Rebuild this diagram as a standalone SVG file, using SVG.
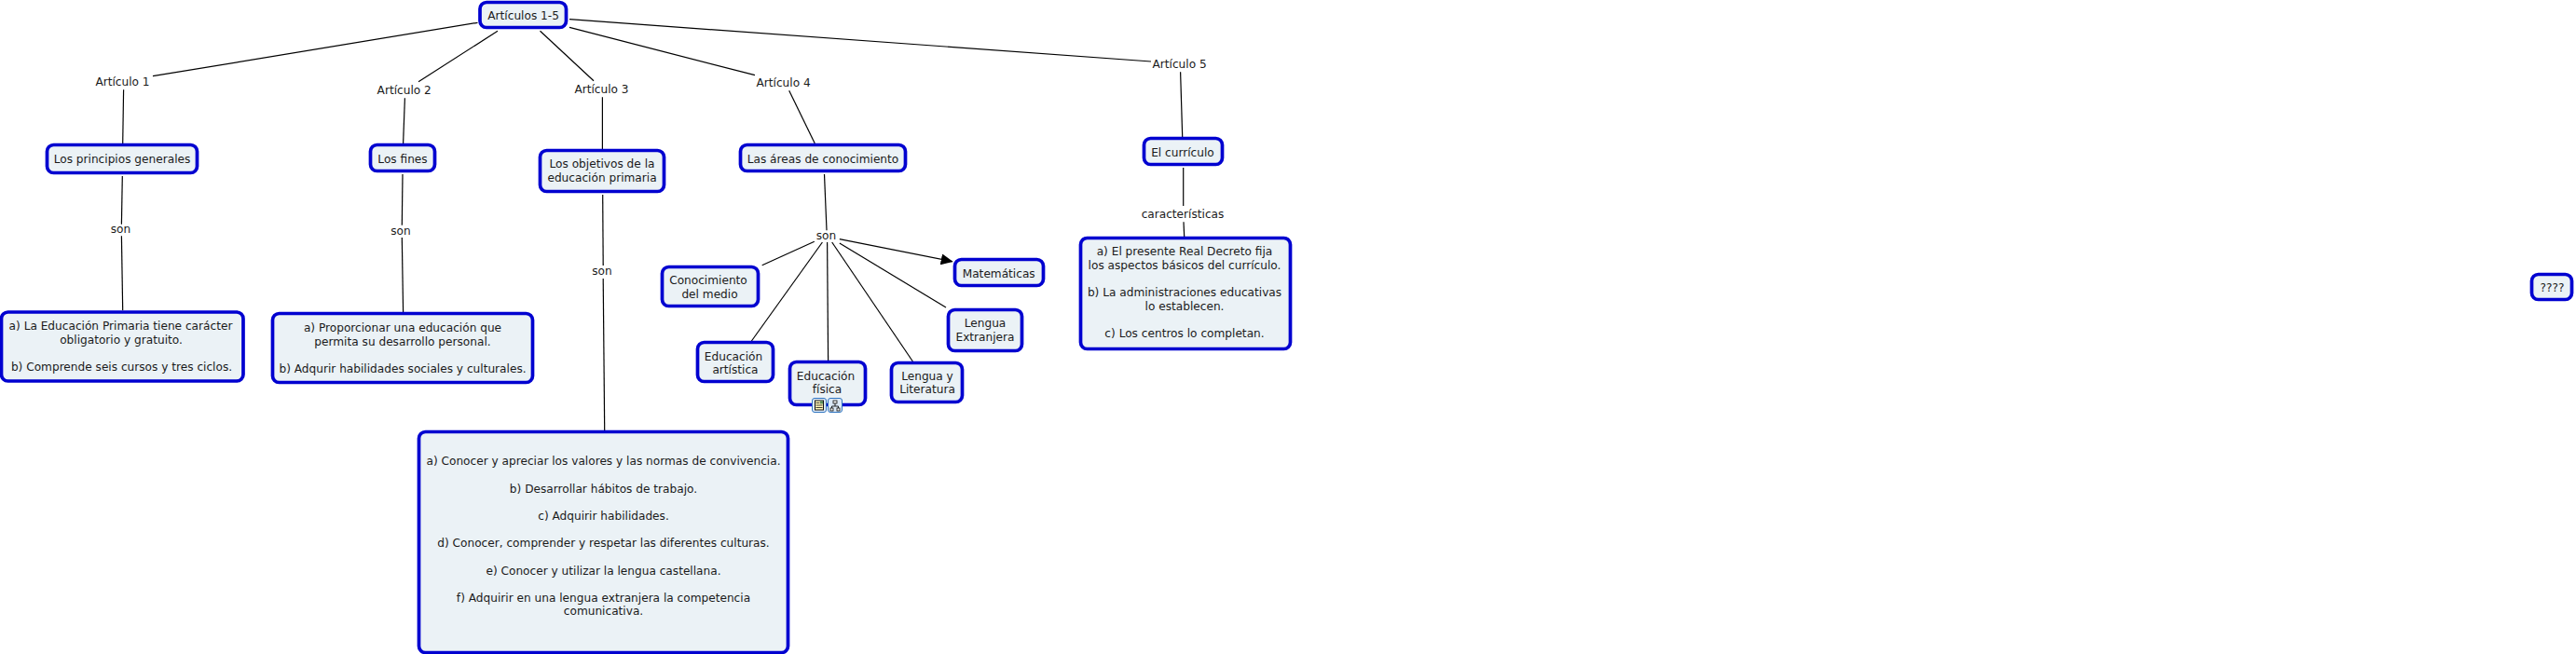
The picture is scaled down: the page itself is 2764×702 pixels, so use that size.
<svg xmlns="http://www.w3.org/2000/svg" width="2764" height="702" viewBox="0 0 2764 702">
<style>
rect.n{fill:#ebf2f6;stroke:#0000d0;stroke-width:3.7}
text{font-family:"DejaVu Sans","Verdana",sans-serif;font-size:12.15px;fill:#1a1a1a;text-anchor:middle}
#connectors line{stroke:#000;stroke-width:1.2}
</style>
<defs><marker id="arrow" markerUnits="userSpaceOnUse" markerWidth="14" markerHeight="12" refX="12" refY="6" orient="auto"><path d="M0 0L13 6L0 12Z" fill="#000"/></marker></defs>
<rect width="2764" height="702" fill="#fff"/>
<g id="connectors">
<line x1="512.5" y1="24.3" x2="164" y2="81.7"/>
<line x1="132.6" y1="96.3" x2="131.7" y2="154"/>
<line x1="534" y1="33.3" x2="449" y2="87.7"/>
<line x1="434.4" y1="105.3" x2="432.6" y2="154"/>
<line x1="579.5" y1="33.3" x2="637" y2="86.7"/>
<line x1="646.4" y1="104.3" x2="646.4" y2="160"/>
<line x1="611" y1="29.3" x2="810" y2="80.7"/>
<line x1="846.7" y1="97.3" x2="874.3" y2="154"/>
<line x1="611" y1="20.7" x2="1235" y2="66"/>
<line x1="1266.6" y1="77.3" x2="1268.7" y2="147"/>
<line x1="131.3" y1="189" x2="130.4" y2="240.7"/>
<line x1="130.4" y1="253.3" x2="131.7" y2="333"/>
<line x1="432" y1="187" x2="431.3" y2="241.7"/>
<line x1="431.3" y1="255" x2="432.6" y2="335"/>
<line x1="646.7" y1="209" x2="647.2" y2="285"/>
<line x1="647.2" y1="299" x2="648.7" y2="462"/>
<line x1="884.5" y1="187" x2="887" y2="247.3"/>
<line x1="873.8" y1="259.3" x2="817.7" y2="284.7"/>
<line x1="882.4" y1="260" x2="806.4" y2="366"/>
<line x1="887.6" y1="260" x2="888.6" y2="387"/>
<line x1="892.7" y1="260" x2="979.4" y2="388"/>
<line x1="900.8" y1="261" x2="1015" y2="330"/>
<line x1="900.8" y1="256.7" x2="1021.7" y2="280.7" marker-end="url(#arrow)"/>
<line x1="1269.7" y1="180" x2="1269.7" y2="221"/>
<line x1="1270" y1="238.3" x2="1270.7" y2="254"/>
</g>
<g id="label-a1"><text x="131.5" y="92">Artículo 1</text></g>
<g id="label-a2"><text x="433.7" y="101">Artículo 2</text></g>
<g id="label-a3"><text x="645.5" y="100">Artículo 3</text></g>
<g id="label-a4"><text x="840.6" y="93">Artículo 4</text></g>
<g id="label-a5"><text x="1265.6" y="73">Artículo 5</text></g>
<g id="label-son1"><text x="129.5" y="250">son</text></g>
<g id="label-son2"><text x="430" y="252">son</text></g>
<g id="label-son3"><text x="646" y="295">son</text></g>
<g id="label-son4"><text x="886.5" y="257">son</text></g>
<g id="label-car"><text x="1269" y="234">características</text></g>
<g id="root"><rect class="n" x="515" y="2.5" width="92.5" height="27" rx="7"/><text x="561.6" y="21">Artículos 1-5</text></g>
<g id="principios"><rect class="n" x="50.5" y="155.5" width="161" height="30" rx="7"/><text x="131" y="174.5">Los principios generales</text></g>
<g id="fines"><rect class="n" x="397.5" y="155.5" width="69" height="28" rx="7"/><text x="432" y="174.5">Los fines</text></g>
<g id="objetivos"><rect class="n" x="579.5" y="161.5" width="133" height="44" rx="7"/><text x="646" y="180">Los objetivos de la</text><text x="646" y="194.7">educación primaria</text></g>
<g id="areas"><rect class="n" x="794.5" y="155.5" width="177" height="28" rx="7"/><text x="883" y="175">Las áreas de conocimiento</text></g>
<g id="curriculo"><rect class="n" x="1227.5" y="148.5" width="84" height="28" rx="7"/><text x="1269" y="167.7">El currículo</text></g>
<g id="box1"><rect class="n" x="1.5" y="335" width="259.5" height="74" rx="7"/><text x="129.5" y="354">a) La Educación Primaria tiene carácter</text><text x="130" y="368.7">obligatorio y gratuito.</text><text x="130.5" y="397.7">b) Comprende seis cursos y tres ciclos.</text></g>
<g id="box2"><rect class="n" x="292.5" y="336.5" width="279" height="74" rx="7"/><text x="432" y="356">a) Proporcionar una educación que</text><text x="432" y="370.7">permita su desarrollo personal.</text><text x="432" y="399.7">b) Adqurir habilidades sociales y culturales.</text></g>
<g id="box3"><rect class="n" x="449.5" y="463.5" width="396" height="237" rx="7"/><text x="647.5" y="499.4">a) Conocer y apreciar los valores y las normas de convivencia.</text><text x="647.5" y="529">b) Desarrollar hábitos de trabajo.</text><text x="647.5" y="558">c) Adquirir habilidades.</text><text x="647.5" y="587.4">d) Conocer, comprender y respetar las diferentes culturas.</text><text x="647.5" y="616.7">e) Conocer y utilizar la lengua castellana.</text><text x="647.5" y="645.7">f) Adquirir en una lengua extranjera la competencia</text><text x="647.5" y="660.4">comunicativa.</text></g>
<g id="conocimiento"><rect class="n" x="710.5" y="286.5" width="103" height="42" rx="7"/><text x="760" y="305">Conocimiento</text><text x="761.5" y="319.7">del medio</text></g>
<g id="matematicas"><rect class="n" x="1024.5" y="278.5" width="95" height="28" rx="7"/><text x="1071.7" y="297.7">Matemáticas</text></g>
<g id="extranjera"><rect class="n" x="1017.5" y="332.5" width="79" height="44" rx="7"/><text x="1057" y="351">Lengua</text><text x="1057" y="365.7">Extranjera</text></g>
<g id="artistica"><rect class="n" x="748.5" y="367.5" width="81" height="42" rx="7"/><text x="787" y="387">Educación</text><text x="789" y="401.4">artística</text></g>
<g id="fisica"><rect class="n" x="847.5" y="388.5" width="81" height="46" rx="7"/><text x="886" y="408">Educación</text><text x="887.5" y="422.4">física</text>
<rect x="871.5" y="427.5" width="15" height="15" rx="2.5" fill="#dce9f7" stroke="#2f74c0"/><rect x="874.5" y="430" width="9" height="10" fill="#fff6b8" stroke="#111" stroke-width="1"/><path d="M875.5 432.5h4M875.5 435h7M875.5 437.5h7" stroke="#111" stroke-width=".8" fill="none"/><rect x="880" y="430.5" width="3" height="3" fill="#5a8f5a"/>
<rect x="888.5" y="427.5" width="15" height="15" rx="2.5" fill="#dce9f7" stroke="#2f74c0"/><path d="M896 433v3M892.5 438v-2h7v2" stroke="#111" stroke-width=".9" fill="none"/><rect x="894" y="430" width="4" height="3" fill="#eee" stroke="#111" stroke-width=".8"/><rect x="891" y="438" width="3" height="3" fill="#eee" stroke="#111" stroke-width=".8"/><rect x="898" y="438" width="3" height="3" fill="#eee" stroke="#111" stroke-width=".8"/></g>
<g id="literatura"><rect class="n" x="956.5" y="389.5" width="76" height="42" rx="7"/><text x="995" y="408">Lengua y</text><text x="995" y="422.4">Literatura</text></g>
<g id="caracteristicas"><rect class="n" x="1159.5" y="255.5" width="225" height="119" rx="7"/><text x="1271" y="274.4">a) El presente Real Decreto fija</text><text x="1271" y="289">los aspectos básicos del currículo.</text><text x="1271" y="318">b) La administraciones educativas</text><text x="1271" y="332.7">lo establecen.</text><text x="1271" y="361.7">c) Los centros lo completan.</text></g>
<g id="unknown"><rect class="n" x="2716.5" y="294.5" width="43" height="27" rx="7"/><text x="2738.5" y="312.5">????</text></g>
</svg>
